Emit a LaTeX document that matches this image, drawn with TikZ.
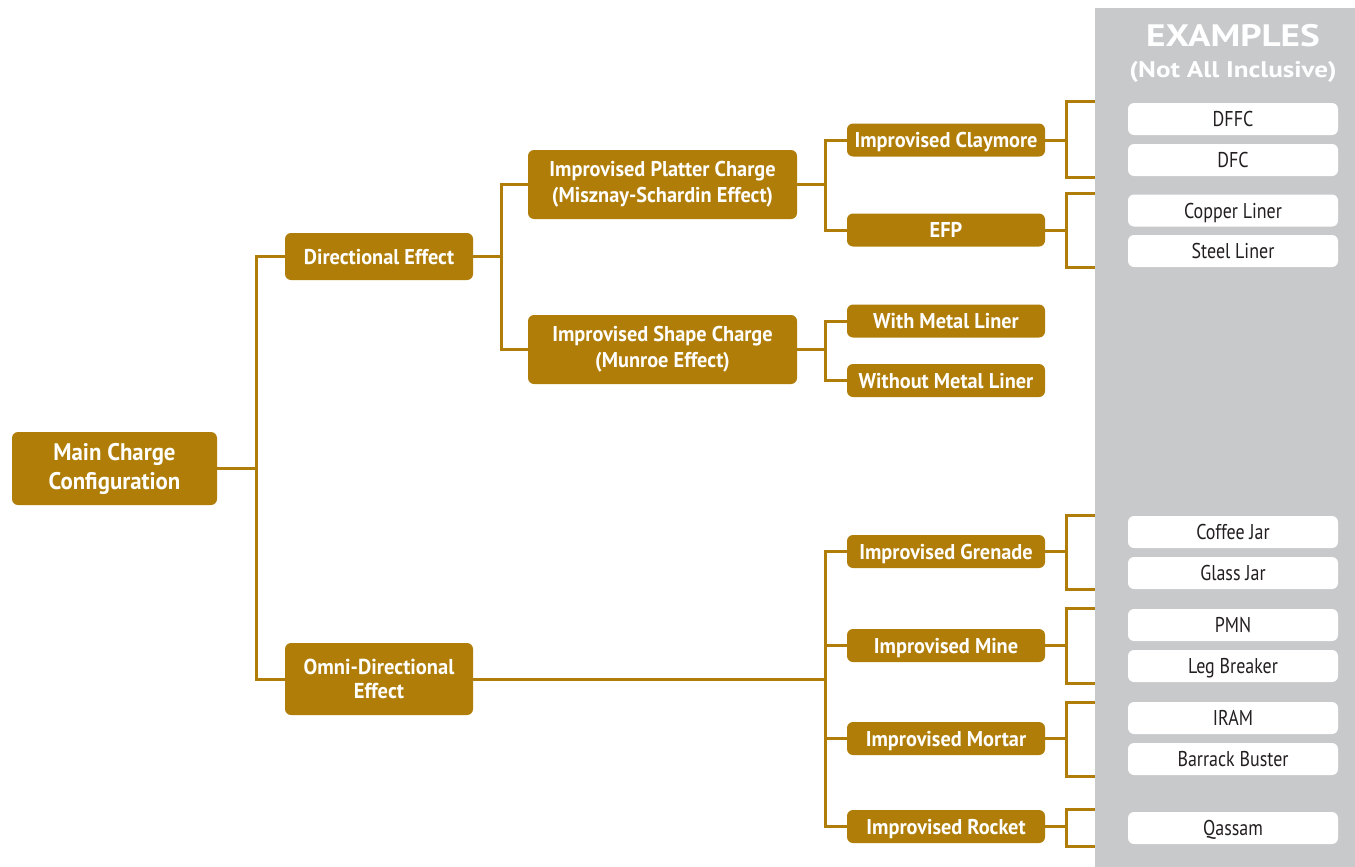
\documentclass[tikz,border=0pt]{standalone}
\usepackage{fontspec}
\setmainfont{PT Sans}
\newfontfamily\condfont{PT Sans}[FakeStretch=0.84]
\newfontfamily\chargefont{PT Sans}[FakeStretch=0.95]
\newfontfamily\titlefont{PT Sans}[FakeStretch=1.2]
\definecolor{chargebrown}{RGB}{176,126,8}
\definecolor{panelgray}{RGB}{200,201,203}
\definecolor{exampletext}{RGB}{35,31,32}
\tikzset{
  charge/.style={fill=chargebrown, rounded corners=3pt, text=white, align=center, inner sep=0pt,
    font=\chargefont\bfseries\fontsize{10.7}{13}\selectfont},
  oneline/.style={text height=7.5pt, text depth=0pt},
  lvltwo/.style={charge, minimum width=94pt},
  lvlthree/.style={charge, minimum width=134.5pt, minimum height=34.5pt},
  lvlfour/.style={charge, oneline, minimum width=99pt, minimum height=16.5pt},
  example/.style={fill=white, rounded corners=3pt, text=exampletext, inner sep=0pt, oneline,
    minimum width=105pt, minimum height=16pt, font=\condfont\fontsize{10.7}{12}\selectfont},
  branch/.style={draw=chargebrown, line width=1.5pt},
}
\begin{document}
\begin{tikzpicture}[x=0.5pt, y=-0.5pt]
	\useasboundingbox (0,0) rectangle (1355,867);
	% examples panel
	\fill [panelgray] (1095,8) rectangle (1355,867);
	\node [text=white, font=\titlefont\bfseries\fontsize{15.5}{17}\selectfont] (title) at (1233,36) {EXAMPLES};
	\node [text=white, font=\titlefont\bfseries\fontsize{11.3}{13}\selectfont] (subtitle) at (1233,71.5) {(Not All Inclusive)};
	% charge tree
	\node [charge, minimum width=102.5pt, minimum height=36.5pt, font=\chargefont\bfseries\fontsize{12}{14.5}\selectfont] (main) at (114.5,468.5) {Main Charge\\Configuration};
	\node [lvltwo, oneline, minimum height=23.5pt] (dir) at (379,256.5) {Directional Effect};
	\node [lvltwo, minimum height=36pt, font=\chargefont\bfseries\fontsize{10.8}{12}\selectfont] (omni) at (379,679) {Omni-Directional\\Effect};
	\node [lvlthree] (platter) at (662.5,184.5) {Improvised Platter Charge\\(Misznay-Schardin Effect)};
	\node [lvlthree] (shape) at (662.5,349.5) {Improvised Shape Charge\\(Munroe Effect)};
	\node [lvlfour] (claymore) at (946,140) {Improvised Claymore};
	\node [lvlfour] (efp) at (946,230) {EFP};
	\node [lvlfour] (metal) at (946,321) {With Metal Liner};
	\node [lvlfour] (nometal) at (946,380.5) {Without Metal Liner};
	\node [lvlfour] (grenade) at (946,551.5) {Improvised Grenade};
	\node [lvlfour] (mine) at (946,645.5) {Improvised Mine};
	\node [lvlfour] (mortar) at (946,738.5) {Improvised Mortar};
	\node [lvlfour] (rocket) at (946,826.5) {Improvised Rocket};
	% examples
	\node [example] (dffc) at (1233,119) {DFFC};
	\node [example] (dfc) at (1233,160) {DFC};
	\node [example] (copper) at (1233,210.5) {Copper Liner};
	\node [example] (steel) at (1233,251) {Steel Liner};
	\node [example] (coffee) at (1233,532) {Coffee Jar};
	\node [example] (glass) at (1233,573) {Glass Jar};
	\node [example] (pmn) at (1233,625) {PMN};
	\node [example] (leg) at (1233,666) {Leg Breaker};
	\node [example] (iram) at (1233,718) {IRAM};
	\node [example] (barrack) at (1233,759) {Barrack Buster};
	\node [example] (qassam) at (1233,828) {Qassam};
	% junctions
	\coordinate (j1) at (256,468.5);
	\coordinate (j2) at (501,256.5);
	\coordinate (j3) at (825,184.5);
	\coordinate (j4) at (825,349.5);
	\coordinate (j5) at (825,679);
	\draw [branch] (main.east) -- (j1);
	\draw [branch] (dir.west) -| (j1) |- (omni.west);
	\draw [branch] (dir.east) -- (j2);
	\draw [branch] (platter.west) -| (j2) |- (shape.west);
	\draw [branch] (platter.east) -- (j3);
	\draw [branch] (claymore.west) -| (j3) |- (efp.west);
	\draw [branch] (shape.east) -- (j4);
	\draw [branch] (metal.west) -| (j4) |- (nometal.west);
	\draw [branch] (omni.east) -- (j5);
	\draw [branch] (grenade.west) -| (j5) |- (rocket.west);
	\draw [branch] (mine.west) -- (mine.west -| j5);
	\draw [branch] (mortar.west) -- (mortar.west -| j5);
	% brackets running under the panel
	\foreach \n/\y/\t/\b in {claymore/140/101/177, efp/230/193/267, grenade/551.5/515/589,
	                         mine/645.5/608/683, mortar/738.5/702/776, rocket/826.5/809/846}{
		\coordinate (\n-k) at (1066,\y);
		\coordinate (\n-top) at (1095,\t);
		\coordinate (\n-bot) at (1095,\b);
		\draw [branch] (\n.east) -- (\n-k);
		\draw [branch] (\n-top) -| (\n-k) |- (\n-bot);
	}
\end{tikzpicture}
\end{document}
